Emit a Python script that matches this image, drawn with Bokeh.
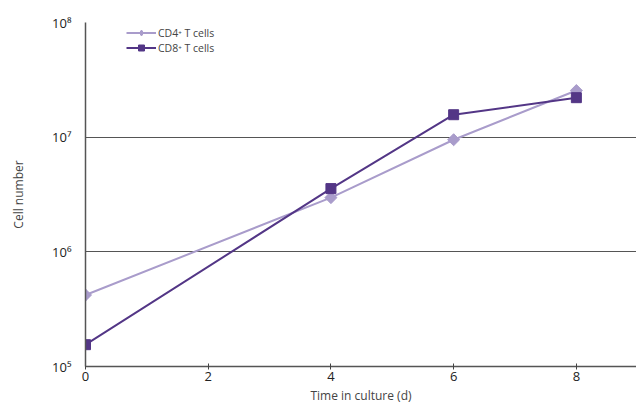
import math
from bokeh.plotting import figure
from bokeh.models import FixedTicker, Legend, LegendItem
from bokeh.embed import file_html
from bokeh.resources import INLINE

days = [0, 4, 6, 8]
cd4 = [4.2e5, 2.97e6, 9.5e6, 2.55e7]
cd8 = [1.55e5, 3.56e6, 1.57e7, 2.21e7]
x_ticks = [0, 2, 4, 6, 8]
y_ticks = [1e5, 1e6, 1e7, 1e8]
y_tick_labels = ["10⁵", "10⁶", "10⁷", "10⁸"]
series_names = ["CD4⁺ T cells", "CD8⁺ T cells"]

c4 = "#a99ccb"
c8 = "#533686"
FONT = "Open Sans"

p = figure(width=636, height=407, x_range=(0, 8.98), y_range=(1e5, 1e8),
           y_axis_type="log", output_backend="svg", toolbar_location=None,
           min_border_left=85, min_border_top=22, min_border_bottom=41,
           min_border_right=0)
p.outline_line_color = None
p.background_fill_color = "white"

l4 = p.line(days, cd4, line_color=c4, line_width=2)
m4 = p.scatter(days, cd4, marker="square", angle=math.pi / 4, size=8.5,
               fill_color=c4, line_color=c4)
# swatch for the legend: a diamond hidden inside the first rotated-square marker
k4 = p.scatter(days[:1], cd4[:1], marker="diamond", size=12,
               fill_color=c4, line_color=c4)
l8 = p.line(days, cd8, line_color=c8, line_width=2)
m8 = p.scatter(days, cd8, marker="square", size=10, fill_color=c8, line_color=c8)

p.xgrid.visible = False
p.ygrid.ticker = FixedTicker(ticks=y_ticks)
p.ygrid.grid_line_color = "#555555"
p.ygrid.grid_line_width = 1.2

p.xaxis.ticker = FixedTicker(ticks=x_ticks)
p.xaxis.minor_tick_line_color = None
p.xaxis.major_tick_in = 3
p.xaxis.major_tick_out = 3
p.xaxis.major_tick_line_color = "#444444"
p.xaxis.axis_line_color = "#555555"
p.xaxis.axis_line_width = 1.5
p.xaxis.major_label_standoff = 2
p.xaxis.major_label_text_font = FONT
p.xaxis.major_label_text_font_size = "13px"
p.xaxis.major_label_text_color = "#222222"
p.xaxis.axis_label = "Time in culture (d)"
p.xaxis.axis_label_text_font = FONT
p.xaxis.axis_label_text_font_style = "normal"
p.xaxis.axis_label_text_font_size = "12px"
p.xaxis.axis_label_standoff = 3

p.yaxis.ticker = FixedTicker(ticks=y_ticks)
p.yaxis.major_label_overrides = {t: s for t, s in zip(y_ticks, y_tick_labels)}
p.yaxis.minor_tick_line_color = None
p.yaxis.major_tick_in = 0
p.yaxis.major_tick_out = 0
p.yaxis.axis_line_color = "#555555"
p.yaxis.axis_line_width = 1.5
p.yaxis.major_label_standoff = 14
p.yaxis.major_label_text_font = FONT
p.yaxis.major_label_text_font_size = "13px"
p.yaxis.major_label_text_color = "#222222"
p.yaxis.axis_label = "Cell number"
p.yaxis.axis_label_text_font = FONT
p.yaxis.axis_label_text_font_style = "normal"
p.yaxis.axis_label_text_font_size = "12px"
p.yaxis.axis_label_standoff = 22

legend = Legend(items=[LegendItem(label=series_names[0], renderers=[l4, k4]),
                       LegendItem(label=series_names[1], renderers=[l8, m8])],
                location=(41, 311), border_line_color=None,
                background_fill_alpha=0, label_text_font=FONT,
                label_text_font_size="10.5px", glyph_width=30, glyph_height=15,
                label_height=15, spacing=0, padding=2, margin=0,
                label_standoff=2)
p.add_layout(legend)

open("out.html", "w").write(file_html(p, INLINE))
